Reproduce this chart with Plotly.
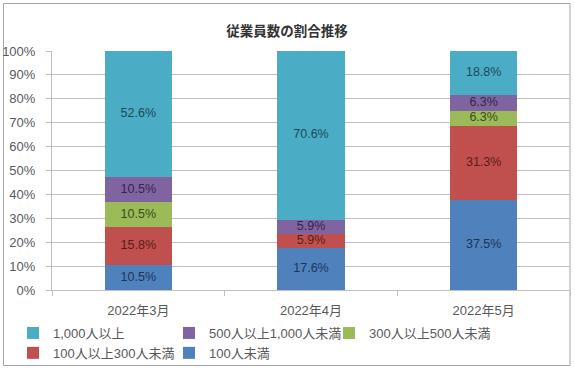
import plotly.graph_objects as go

categories = ["2022年3月", "2022年4月", "2022年5月"]
series_names = ["100人未満", "100人以上300人未満", "300人以上500人未満", "500人以上1,000人未満", "1,000人以上"]
under_100 = [10.5, 17.6, 37.5]
from_100_to_300 = [15.8, 5.9, 31.3]
from_300_to_500 = [10.5, 0.0, 6.3]
from_500_to_1000 = [10.5, 5.9, 6.3]
over_1000 = [52.6, 70.6, 18.8]
y_ticks = [0, 10, 20, 30, 40, 50, 60, 70, 80, 90, 100]

series_values = [under_100, from_100_to_300, from_300_to_500, from_500_to_1000, over_1000]
colors = ["#4F81BD", "#C0504D", "#9BBB59", "#8064A2", "#4BACC6"]
text_colors = ["#1c3559", "#5a1c1b", "#3c4a1f", "#33254a", "#1d4a57"]
# which legend box (column) each series is listed in
legend_slot = ["legend2", "legend", "legend3", "legend2", "legend"]

FONT = "Liberation Sans, Noto Sans CJK JP, sans-serif"

fig = go.Figure()
base = [0.0] * len(categories)
label_traces = []
for name, vals, c, tc in zip(series_names, series_values, colors, text_colors):
    fig.add_trace(go.Bar(
        x=categories, y=vals, name=name, marker_color=c,
        marker_line_width=0, textposition="none",
        showlegend=False, legendgroup=name,
    ))
    mids = [b + v / 2 for b, v in zip(base, vals)]
    label_traces.append(go.Scatter(
        x=categories, y=mids, mode="text",
        text=[f"{v:.1f}%" if v > 0 else "" for v in vals],
        textposition="middle center",
        textfont=dict(color=tc, size=12.5, family=FONT),
        showlegend=False, hoverinfo="skip",
    ))
    base = [b + v for b, v in zip(base, vals)]
for t in label_traces:
    fig.add_trace(t)

# legend entries (small square symbols), listed top series first
for i in reversed(range(len(series_names))):
    fig.add_trace(go.Scatter(
        x=[None], y=[None], mode="markers", name=series_names[i],
        legendgroup=series_names[i], legend=legend_slot[i],
        marker=dict(symbol="square", size=8, color=colors[i]),
    ))

W, H = 575, 371
L, R, T, B = 52, 5, 51, 81
pw, ph = W - L - R, H - T - B

def px(x):
    return (x - L) / pw

def py(y):
    return (H - B - y) / ph

def legend_box(left):
    return dict(orientation="v", x=px(left), xanchor="left", y=py(318), yanchor="top",
                traceorder="normal", tracegroupgap=0, itemsizing="constant",
                font=dict(size=13, color="#595959", family=FONT),
                bgcolor="rgba(0,0,0,0)", borderwidth=0)

fig.update_layout(
    width=W, height=H,
    margin=dict(l=L, r=R, t=T, b=B, autoexpand=False),
    barmode="stack", bargap=0.61,
    plot_bgcolor="white", paper_bgcolor="white",
    font=dict(family=FONT, size=13, color="#595959"),
    title=dict(text="<b>従業員数の割合推移</b>", xref="container", x=287 / W, xanchor="center",
               yref="container", y=1 - 31 / H, yanchor="middle",
               font=dict(size=13.5, color="#333333", family="Noto Sans CJK JP")),
    showlegend=True,
    legend=legend_box(13),
    legend2=legend_box(169),
    legend3=legend_box(329),
    xaxis=dict(showgrid=False, showline=True, linecolor="#BFBFBF", linewidth=1,
               ticks="outside", tickson="boundaries", ticklen=5, tickcolor="#BFBFBF",
               ticklabelstandoff=8, automargin=False,
               tickfont=dict(size=13, color="#595959")),
    yaxis=dict(range=[0, 100], tickvals=y_ticks, ticktext=[f"{v}%" for v in y_ticks],
               showgrid=True, gridcolor="#BFBFBF", gridwidth=1,
               showline=True, linecolor="#BFBFBF", linewidth=1,
               ticks="outside", ticklen=5, tickcolor="#BFBFBF",
               ticklabelstandoff=8, automargin=False,
               tickfont=dict(size=13, color="#595959"), zeroline=False),
    shapes=[dict(type="rect", xref="paper", yref="paper",
                 x0=px(3.5), x1=px(570), y0=py(365.5), y1=py(3.5),
                 line=dict(color="#A6A6A6", width=1), fillcolor="rgba(0,0,0,0)",
                 layer="below")],
)

fig.write_html("out.html", config={"displayModeBar": False},
               post_script="document.body.style.margin='0';")
